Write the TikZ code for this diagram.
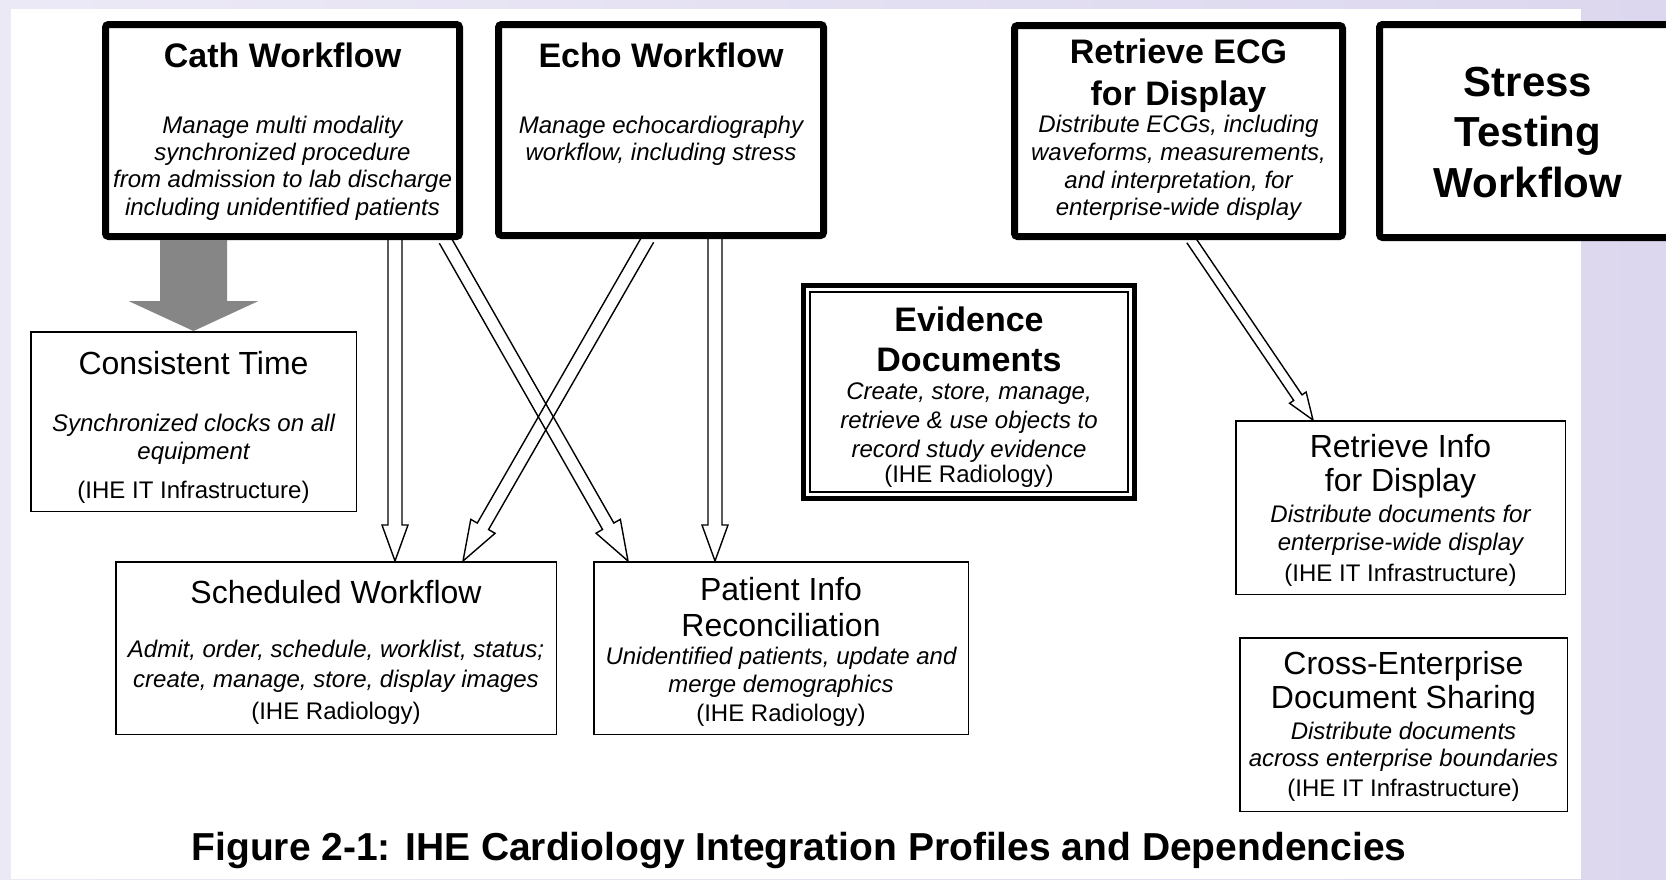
\documentclass[tikz,border=0pt]{standalone}
\usepackage{fontspec}
\setmainfont{Liberation Sans}
\usetikzlibrary{calc}

\definecolor{lavL}{RGB}{236,233,247}
\definecolor{lavR}{RGB}{220,215,238}
\definecolor{blockgray}{RGB}{134,134,134}

% hollow block arrow: [style]{from}{to}{shaft half width}{head half width}{head length}
\newcommand{\hollowarrow}[6][]{%
  \coordinate (ha-b) at ($(#3)!#6!(#2)$);
  \draw[arrowline,#1] ($(#2)!#4!90:(#3)$) -- ($(ha-b)!#4!90:(#3)$) -- ($(ha-b)!#5!90:(#3)$)
    -- (#3) -- ($(ha-b)!#5!-90:(#3)$) -- ($(ha-b)!#4!-90:(#3)$) -- ($(#2)!#4!-90:(#3)$);
}

\tikzset{
  wfbox/.style={draw, line width=3.5pt, rounded corners=1.5pt, fill=white},
  pbox/.style={draw, line width=0.75pt, fill=white},
  ttl/.style={font=\bfseries\fontsize{17}{#1}\selectfont, align=center},
  ttl/.default=20.5,
  sub/.style={font=\fontsize{16}{#1}\selectfont, align=center},
  sub/.default=18,
  dsc/.style={font=\itshape\fontsize{12}{#1}\selectfont, align=center},
  dsc/.default=13.7,
  src/.style={font=\fontsize{12}{14}\selectfont, align=center},
  arrowline/.style={line width=0.7pt, line join=miter},
}

\begin{document}
\begin{tikzpicture}[x=0.5pt, y=-0.5pt]
\useasboundingbox (0,0) rectangle (1666,879);
\clip (0,0) rectangle (1666,879);
\shade[left color=lavL, right color=lavR] (0,0) rectangle (1666,879);
\fill[white] (11,9) rectangle (1581,879);

% workflow profiles
\node[wfbox, minimum width=177pt, minimum height=106pt] (cath) at (282.5,130.5) {};
\node[wfbox, minimum width=162.5pt, minimum height=105.5pt] (echo) at (661,130) {};
\node[wfbox, minimum width=164pt, minimum height=105.5pt] (ecg) at (1178.5,131) {};
\node[wfbox, minimum width=148.5pt, minimum height=106.5pt] (stress) at (1528,131) {};
\node[draw, line width=2.5pt, fill=white, minimum width=165.5pt, minimum height=106.5pt] (ev) at (969,392) {};
\draw[line width=0.75pt] ([shift={(9,9)}]ev.north west) rectangle ([shift={(-9,-9)}]ev.south east);

% profiles it depends on
\node[pbox, minimum width=162.75pt, minimum height=89.75pt] (ct) at (193.5,421.5) {};
\node[pbox, minimum width=220.25pt, minimum height=86.25pt] (sched) at (336,648) {};
\node[pbox, minimum width=187.25pt, minimum height=86.25pt] (pir) at (781,648) {};
\node[pbox, minimum width=164.75pt, minimum height=86.75pt] (rinfo) at (1400.5,507.5) {};
\node[pbox, minimum width=163.75pt, minimum height=86.75pt] (xds) at (1403.5,724.5) {};

% arrows
\coordinate (a1s) at (ct.north |- cath.south);
\hollowarrow[draw=none, fill=blockgray]{a1s}{ct.north}{16.75pt}{32.5pt}{15pt}
\coordinate (a2s) at ([xshift=56.25pt]cath.south);
\coordinate (a2e) at (a2s |- sched.north);
\hollowarrow{a2s}{a2e}{3.5pt}{6.5pt}{18pt}
\coordinate (a3s) at ([xshift=81.25pt]cath.south);
\coordinate (a3e) at ([xshift=17.5pt]pir.north west);
\hollowarrow{a3s}{a3e}{3.25pt}{7pt}{20pt}
\coordinate (a4s) at ([xshift=-6.5pt]echo.south);
\coordinate (a4e) at ([xshift=174pt]sched.north west);
\hollowarrow{a4s}{a4e}{3.25pt}{7pt}{20pt}
\coordinate (a5s) at ([xshift=27pt]echo.south);
\coordinate (a5e) at (a5s |- pir.north);
\hollowarrow{a5s}{a5e}{3.5pt}{6.5pt}{18pt}
\coordinate (a6s) at ([xshift=6.25pt]ecg.south);
\coordinate (a6e) at ([xshift=39pt]rinfo.north west);
\hollowarrow{a6s}{a6e}{2.5pt}{5pt}{13.5pt}

% texts
\node[ttl] (cath-t) at (282.5,55) {Cath Workflow};
\node[dsc] (cath-d) at (282.5,168) {Manage multi modality\\synchronized procedure\\from admission to lab discharge\\including unidentified patients};
\node[ttl] (echo-t) at (661,55) {Echo Workflow};
\node[dsc=13.3] (echo-d) at (661,141) {Manage echocardiography\\workflow, including stress};
\node[ttl=21] (ecg-t) at (1178.5,76) {Retrieve ECG\\for Display};
\node[dsc=13.8] (ecg-d) at (1178.5,168) {Distribute ECGs, including\\waveforms, measurements,\\and interpretation, for\\enterprise-wide display};
\node[ttl, font=\bfseries\fontsize{21}{25.3}\selectfont] (stress-t) at (1528,132.5) {Stress\\Testing\\Workflow};
\node[ttl=20] (ev-t) at (969,339) {Evidence\\Documents};
\node[dsc=14.5] (ev-d) at (969,423) {Create, store, manage,\\retrieve \& use objects to\\record study evidence};
\node[src] (ev-s) at (969,476) {(IHE Radiology)};

\node[sub] (ct-t) at (193.5,363) {Consistent Time};
\node[dsc=14] (ct-d) at (193.5,439) {Synchronized clocks on all\\equipment};
\node[src] (ct-s) at (193.5,492) {(IHE IT Infrastructure)};
\node[sub] (sched-t) at (336,592) {Scheduled Workflow};
\node[dsc=15] (sched-d) at (336,666) {Admit, order, schedule, worklist, status;\\create, manage, store, display images};
\node[src] (sched-s) at (336,713) {(IHE Radiology)};
\node[sub=18] (pir-t) at (781,607) {Patient Info\\Reconciliation};
\node[dsc=14] (pir-d) at (781,672) {Unidentified patients, update and\\merge demographics};
\node[src] (pir-s) at (781,715) {(IHE Radiology)};
\node[sub=17] (rinfo-t) at (1400.5,466) {Retrieve Info\\for Display};
\node[dsc=14] (rinfo-d) at (1400.5,530) {Distribute documents for\\enterprise-wide display};
\node[src] (rinfo-s) at (1400.5,575) {(IHE IT Infrastructure)};
\node[sub=17] (xds-t) at (1403.5,683) {Cross-Enterprise\\Document Sharing};
\node[dsc=13.5] (xds-d) at (1403.5,747) {Distribute documents\\across enterprise boundaries};
\node[src] (xds-s) at (1403.5,790) {(IHE IT Infrastructure)};

\node[font=\bfseries\fontsize{19.5}{22}\selectfont] (caption) at (799,850) {Figure 2-1: IHE Cardiology Integration Profiles and Dependencies};
\end{tikzpicture}
\end{document}
